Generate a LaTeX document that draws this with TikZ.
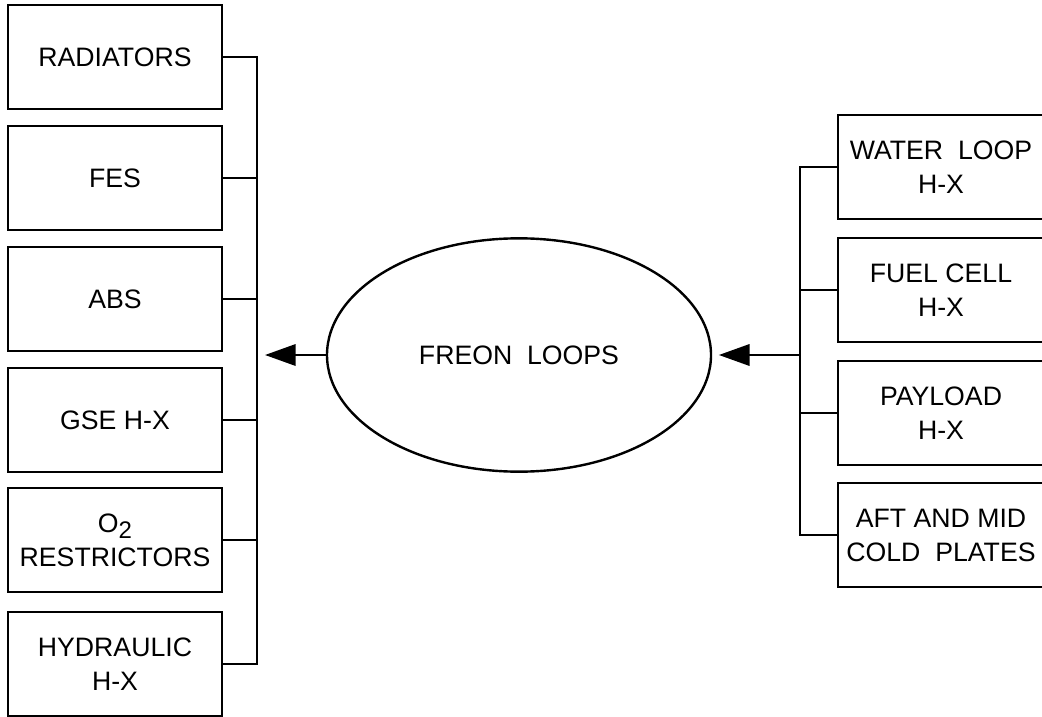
\documentclass[tikz,border=0pt]{standalone}
\usepackage{fontspec}
\setmainfont{Liberation Sans}
\usetikzlibrary{shapes.geometric,arrows.meta,positioning,calc}
\newcommand{\osub}[1]{\raisebox{-0.45ex}{\fontsize{18}{18}\selectfont #1}}

\begin{document}
\begin{tikzpicture}[x=0.75pt,y=-0.75pt,
    wire/.style={line width=1.8pt},
    lbox/.style={draw, line width=1.8pt, minimum width=160.5pt, minimum height=78pt,
                 align=center, inner sep=0pt, font=\fontsize{20}{25.5}\selectfont},
    rbox/.style={lbox, minimum width=154.5pt},
    loopell/.style={draw, ellipse, line width=1.8pt, minimum width=288pt, minimum height=175pt,
                 inner sep=0pt, font=\fontsize{20}{25.5}\selectfont},
    tip/.style={-{Triangle[length=23pt,width=16pt]}}]
    \useasboundingbox (0,0) rectangle (1042,717);
    \clip (0,0) rectangle (1042,717);
    % Sinks on the left
    \foreach \nm/\yy/\txt in {rad/57/RADIATORS, fes/178/FES, abs/299/ABS, gse/420/GSE H-X,
                              otwo/540/{O\osub{2}\\RESTRICTORS}, hyd/664/{HYDRAULIC\\H-X}} {
        \node[lbox] (\nm) at (115,\yy) {\txt};
    }
    % Sources on the right (cut by the page edge)
    \foreach \nm/\yy/\txt in {wat/167/{WATER\ \ LOOP\\H-X}, fuel/290/{FUEL CELL\\H-X},
                              pay/413/{PAYLOAD\\H-X}, aft/535/{AFT AND MID\\COLD\ \ PLATES}} {
        \node[rbox] (\nm) at (941,\yy) {\txt};
    }
    \node[loopell] (freon) at (519,355) {FREON\ \ LOOPS};
    % Buses
    \coordinate (lbus) at (257,0);
    \coordinate (rbus) at (800,0);
    \draw[wire] (rad.east) -- (rad.east -| lbus) -- (hyd.east -| lbus) -- (hyd.east);
    \foreach \nm in {fes,abs,gse,otwo} {
        \draw[wire] (\nm.east) -- (\nm.east -| lbus);
    }
    \draw[wire] (wat.west) -- (wat.west -| rbus) -- (aft.west -| rbus) -- (aft.west);
    \foreach \nm in {fuel,pay} {
        \draw[wire] (\nm.west) -- (\nm.west -| rbus);
    }
    % Flow arrows
    \draw[wire, tip, shorten >=6pt] (freon.west) -- (freon.west -| lbus);
    \draw[wire, tip, shorten >=5pt] (freon.east -| rbus) -- (freon.east);
\end{tikzpicture}
\end{document}
